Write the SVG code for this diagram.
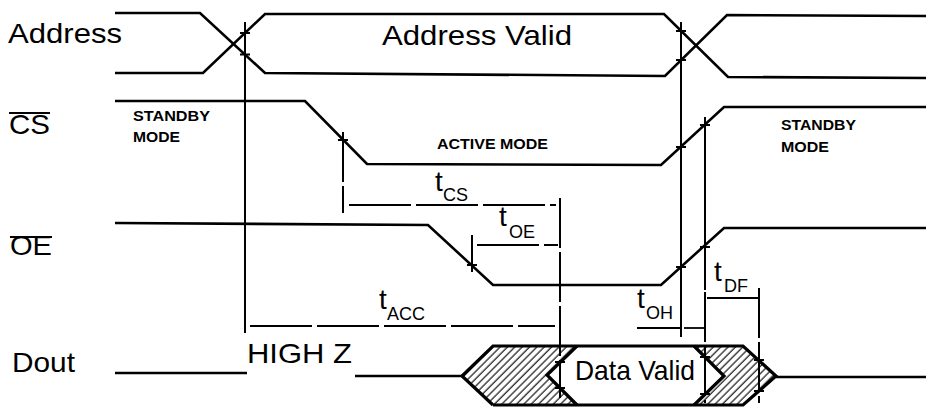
<svg xmlns="http://www.w3.org/2000/svg" width="926" height="407" viewBox="0 0 926 407">
<style>
.sig{fill:none;stroke:#000;stroke-width:2.6;stroke-linejoin:miter}
.bus{fill:none;stroke:#000;stroke-width:3.2;stroke-linejoin:miter}
.vl{fill:none;stroke:#000;stroke-width:2}
.dim{fill:none;stroke:#000;stroke-width:1.8;stroke-dasharray:62 5}
.dimv{fill:none;stroke:#000;stroke-width:2;stroke-dasharray:50 4}
.tick{fill:none;stroke:#000;stroke-width:2}
.lbl{font-family:"Liberation Sans",Arial,sans-serif;font-size:28px;fill:#000}
.mode{font-family:"Liberation Sans",Arial,sans-serif;font-size:14px;font-weight:bold;fill:#000}
.t{font-family:"Liberation Sans",Arial,sans-serif;font-size:28px;fill:#000}
.sub{font-family:"Liberation Sans",Arial,sans-serif;font-size:18px;fill:#000}
.hatch{fill:url(#hatch)}
</style>
<defs>
<pattern id="hatch" width="5.2" height="5.2" patternUnits="userSpaceOnUse" patternTransform="rotate(45)">
<line x1="1" y1="0" x2="1" y2="5.2" stroke="#000" stroke-width="1.1"/>
</pattern>
</defs>

<g id="labels">
<text class="lbl" x="8" y="43" textLength="114" lengthAdjust="spacingAndGlyphs">Address</text>
<text class="lbl" x="9" y="134" font-size="27" textLength="41" lengthAdjust="spacingAndGlyphs">CS</text>
<line x1="9" y1="113" x2="50" y2="113" stroke="#000" stroke-width="2"/>
<text class="lbl" x="10" y="255" font-size="27" textLength="42" lengthAdjust="spacingAndGlyphs">OE</text>
<line x1="10" y1="237" x2="52" y2="237" stroke="#000" stroke-width="2"/>
<text class="lbl" x="12" y="372" textLength="63" lengthAdjust="spacingAndGlyphs">Dout</text>
</g>

<g id="address">
<polyline class="sig" points="115,13 200,13 265,73 665,76 727,15 926,16"/>
<polyline class="sig" points="115,73 203,73 265,14 664,14 728,77 926,78"/>
<text class="lbl" x="382" y="45" textLength="190" lengthAdjust="spacingAndGlyphs">Address Valid</text>
</g>

<g id="cs">
<polyline class="sig" points="115,101 305,101 367,164 661,165 724,107 926,107"/>
<text class="mode" x="133" y="121" textLength="77" lengthAdjust="spacingAndGlyphs">STANDBY</text>
<text class="mode" x="133" y="142" textLength="47" lengthAdjust="spacingAndGlyphs">MODE</text>
<text class="mode" x="437" y="149" textLength="111" lengthAdjust="spacingAndGlyphs">ACTIVE MODE</text>
<text class="mode" x="781" y="130" textLength="75" lengthAdjust="spacingAndGlyphs">STANDBY</text>
<text class="mode" x="781" y="152" textLength="48" lengthAdjust="spacingAndGlyphs">MODE</text>
</g>

<g id="oe">
<polyline class="sig" points="115,223 428,225 493,285 661,285 724,228 926,228"/>
</g>

<g id="dout">
<polyline class="sig" points="115,373 247,373"/>
<polyline class="sig" points="355,376 462,376"/>
<text class="lbl" x="247" y="363" font-size="25" textLength="105" lengthAdjust="spacingAndGlyphs">HIGH Z</text>
<polygon class="hatch" points="462,376 493,346 577,346 547,375 577,405 493,405"/>
<polygon class="hatch" points="694,346 743,346 776,376 743,405 694,405 724,376"/>
<polyline class="bus" points="493,405 462,376 493,346 743,346 776,376 743,405 493,405"/>
<polyline class="bus" points="577,346 547,375 577,405"/>
<polyline class="bus" points="694,346 724,376 694,405"/>
<polyline class="sig" points="776,377 926,377"/>
<text class="lbl" x="575" y="380" font-size="25" textLength="120" lengthAdjust="spacingAndGlyphs">Data Valid</text>
</g>

<g id="connectors">
<line class="vl" x1="245" y1="22" x2="245" y2="333"/>
<line class="vl" x1="681" y1="22" x2="681" y2="337"/>
<line class="vl" x1="705" y1="117" x2="705" y2="290"/>
<line class="dimv" x1="705" y1="292" x2="705" y2="403" stroke-dasharray="22 5"/>
<line class="dimv" x1="343" y1="132" x2="343" y2="213"/>
<line class="dimv" x1="472" y1="235" x2="472" y2="272" stroke-dasharray="8 4"/>
<line class="dimv" x1="560" y1="198" x2="560" y2="398"/>
<line class="dimv" x1="759" y1="288" x2="759" y2="403" stroke-dasharray="4 6 100"/>
<line class="dim" x1="349" y1="205" x2="556" y2="205" stroke-dasharray="88 34 30 4 60"/>
<line class="dim" x1="477" y1="245" x2="558" y2="245" stroke-dasharray="40 4 40"/>
<line class="dim" x1="250" y1="326" x2="555" y2="326" stroke-dasharray="120 4 80 3 200"/>
<line class="dim" x1="637" y1="328" x2="681" y2="328" stroke-dasharray="none"/>
<line class="dim" x1="684" y1="328" x2="705" y2="328" stroke-dasharray="8 5"/>
<line class="dim" x1="707" y1="298" x2="758" y2="298" stroke-dasharray="16 22 2 6"/>
<path class="tick" d="M240,33H250M240,54.5H250M676,31H686M676,60H686M338,140H348M676,147H686M700,125H710M467,265H477M676,267H686M700,247H710M555,362H565M555,388H565M700,357H710M700,394H710M754,360H764M754,391H764"/>
</g>

<g id="timing-labels">
<text class="t" x="435" y="191">t<tspan class="sub" x="443" y="201">CS</tspan></text>
<text class="t" x="499" y="226">t<tspan class="sub" x="509" y="238">OE</tspan></text>
<text class="t" x="379" y="309">t<tspan class="sub" x="387" y="320">ACC</tspan></text>
<text class="t" x="637" y="308">t<tspan class="sub" x="646" y="319">OH</tspan></text>
<text class="t" x="714" y="281">t<tspan class="sub" x="724" y="292">DF</tspan></text>
</g>
</svg>
